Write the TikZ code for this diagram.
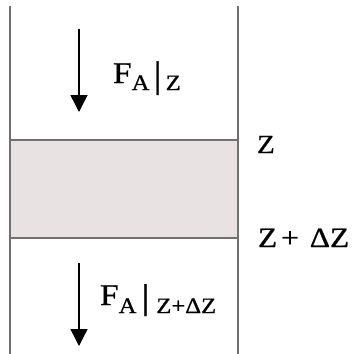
\documentclass[tikz,border=0pt]{standalone}
\usepackage{fontspec}
\setmainfont{Liberation Serif}
\newfontfamily\lblfont[FakeStretch=1.12,FakeBold=0.8]{Liberation Serif}
\usetikzlibrary{arrows.meta}
\definecolor{bandfill}{HTML}{E9E2E2}
\definecolor{wallgray}{HTML}{707070}
\tikzset{
  wall/.style={draw=wallgray, line width=2.2pt},
  force/.style={draw=black, line width=1.4pt, -{Triangle[width=17pt,length=17pt]}},
  lbl/.style={inner sep=0pt, outer sep=0pt, text=black, font=\lblfont},
}
\newcommand{\fsz}[1]{\fontsize{#1}{#1}\selectfont}
\begin{document}
\begin{tikzpicture}[x=1pt,y=-1pt]
\useasboundingbox (0,0) rectangle (353,354);
% element band
\fill[bandfill] (10,140) rectangle (238,238);
% walls
\coordinate (lt) at (10,6);
\coordinate (lb) at (10,354);
\coordinate (rt) at (238,6);
\coordinate (rb) at (238,354);
\coordinate (bl1) at (10,140);
\coordinate (br1) at (238,140);
\coordinate (bl2) at (10,238);
\coordinate (br2) at (238,238);
\draw[wall] (lt) -- (lb);
\draw[wall] (rt) -- (rb);
\draw[wall] (bl1) -- (br1);
\draw[wall] (bl2) -- (br2);
% arrows
\coordinate (a1s) at (79,29);
\coordinate (a1e) at (79,112);
\coordinate (a2s) at (79,263);
\coordinate (a2e) at (79,346);
\draw[force] (a1s) -- (a1e);
\draw[force] (a2s) -- (a2e);
% labels
\node[lbl, anchor=base west] (fz) at (113,83)
  {\fsz{30}F\raisebox{-7pt}{\fsz{22}A}\hspace{4pt}\raisebox{-4pt}{\fsz{37}|}\hspace{4pt}\raisebox{-7pt}{\fsz{22}Z}};
\node[lbl, anchor=base west] (z1) at (257,153) {\fsz{26}Z};
\node[lbl, anchor=base west] (z2) at (258,247) {\fsz{28}Z\hspace{4pt}+\hspace{11pt}ΔZ};
\node[lbl, anchor=base west] (fzdz) at (100,305)
  {\fsz{30}F\raisebox{-8pt}{\fsz{22}A}\hspace{5pt}\raisebox{-3.5pt}{\fsz{35}|}\hspace{7pt}\raisebox{-8pt}{\fsz{22}Z+ΔZ}};
\end{tikzpicture}
\end{document}
